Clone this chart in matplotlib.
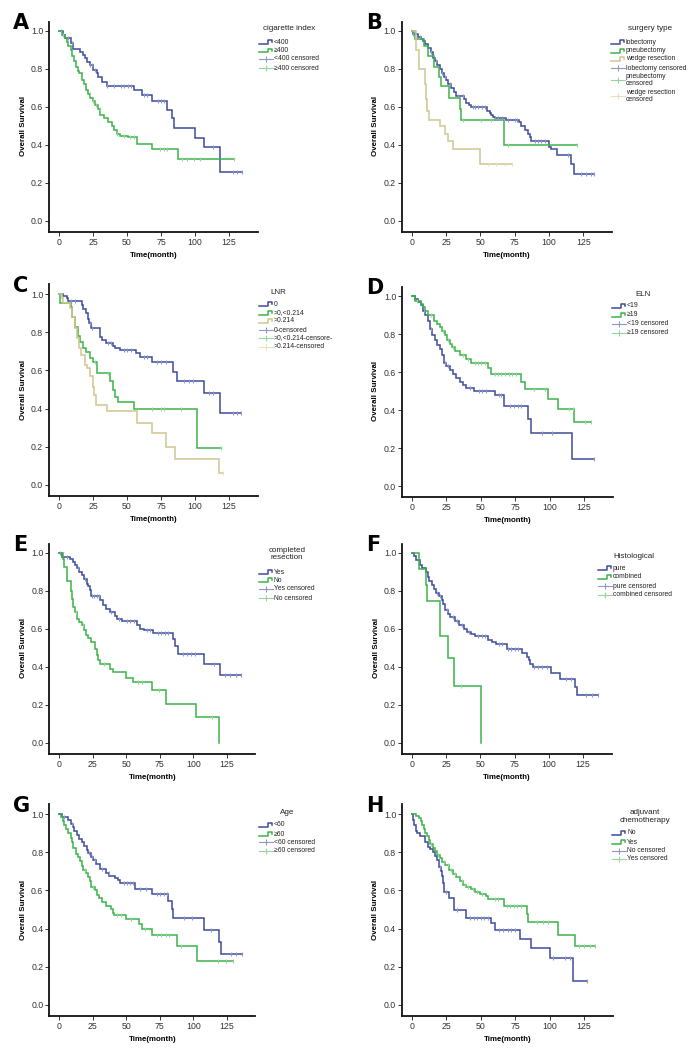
import numpy as np
import matplotlib
matplotlib.use("Agg")
import matplotlib.pyplot as plt
from matplotlib.lines import Line2D

plt.rcParams['font.family'] = ['Liberation Sans', 'DejaVu Sans']

###############################################################
# Data (months, survival after each event, censored times)
###############################################################

# A - cigarette index
A_lt400_t = [3.2, 4.4, 8.8, 10.6, 15.5, 17.4, 19.4, 20.9, 22.8, 25.3, 27.7, 29.0, 31.4, 35.1, 55.5, 60.9,
             68.3, 79.3, 83.0, 84.2, 100.2, 106.8, 118.6]
A_lt400_s = [0.981, 0.961, 0.935, 0.905, 0.891, 0.873, 0.856, 0.838, 0.821, 0.794, 0.777, 0.756, 0.733, 0.71,
             0.689, 0.663, 0.633, 0.583, 0.54, 0.49, 0.439, 0.39, 0.258]
A_lt400_c = [1.5, 6.5, 9.5, 23, 24.5, 26.5, 35.5, 40.5, 45.5, 48, 50.5, 53, 62.5, 64.8, 72.5, 75, 77.5,
             113.5, 128, 131, 134.6]
A_ge400_t = [2.0, 4.4, 5.6, 6.9, 8.6, 9.8, 11.1, 12.5, 13.8, 15.0, 16.7, 18.4, 19.9, 21.6, 22.8, 24.8, 26.5,
             28.5, 30.2, 33.2, 36.3, 38.8, 40.5, 43.0, 44.9, 51.1, 57.2, 68.3, 87.4]
A_ge400_s = [0.981, 0.961, 0.94, 0.92, 0.9, 0.87, 0.84, 0.81, 0.79, 0.777, 0.74, 0.72, 0.69, 0.67, 0.65, 0.633,
             0.61, 0.59, 0.56, 0.54, 0.52, 0.50, 0.48, 0.46, 0.45, 0.44, 0.405, 0.38, 0.325]
A_ge400_c = [2.8, 22.5, 25.0, 27.5, 30.0, 43.0, 47.5, 52.5, 55.0, 74.5, 77.0, 79.5, 90.5, 94.0, 99.0, 104.0, 128.4]

# B - surgery type
B_lob_t = [1.0, 4.6, 7.0, 8.3, 10.0, 11.9, 13.8, 15.5, 17.2, 18.7, 20.4, 22.1, 23.3, 24.8, 26.5, 28.9, 30.8,
           32.5, 38.1, 39.8, 41.5, 43.4, 55.1, 56.8, 58.0, 59.2, 60.4, 68.4, 77.9, 79.9, 82.3, 84.7, 85.9,
           87.1, 100.0, 101.7, 106.1, 116.3, 118.0]
B_lob_s = [0.985, 0.97, 0.96, 0.95, 0.93, 0.91, 0.89, 0.86, 0.84, 0.82, 0.80, 0.78, 0.76, 0.74, 0.72, 0.70,
           0.68, 0.66, 0.64, 0.62, 0.61, 0.60, 0.58, 0.57, 0.56, 0.55, 0.54, 0.53, 0.52, 0.50, 0.48, 0.46,
           0.44, 0.42, 0.39, 0.38, 0.35, 0.30, 0.25]
B_lob_c = [1.0, 5.8, 14.1, 17.7, 22.3, 24.0, 27.7, 33.7, 37.4, 44.9, 46.1, 48.5, 50.9, 53.4, 60.7, 63.1, 65.5,
           70.4, 75.2, 76.5, 89.6, 92.0, 94.4, 96.8, 113.6, 123.3, 127.0, 130.6, 132.8]
B_pne_t = [2.4, 9.0, 11.9, 16.3, 19.7, 21.6, 27.2, 35.0, 36.2, 67.2]
B_pne_s = [0.96, 0.92, 0.87, 0.81, 0.76, 0.71, 0.65, 0.59, 0.53, 0.40]
B_pne_c = [37.5, 50.8, 58.1, 70.3, 120.6]
B_wed_t = [3.4, 5.3, 9.5, 10.7, 11.4, 12.4, 20.4, 24.5, 26.5, 30.1, 49.5]
B_wed_s = [0.90, 0.80, 0.72, 0.64, 0.58, 0.53, 0.50, 0.46, 0.42, 0.38, 0.30]
B_wed_c = [55.6, 61.7, 67.7, 73.3]

# C - LNR
C_0_t = [3.2, 5.6, 6.9, 16.7, 17.9, 19.9, 21.1, 22.3, 23.6, 30.2, 31.4, 34.6, 40.0, 41.3, 44.9, 56.7, 59.7,
         68.3, 83.7, 86.7, 106.8, 118.1]
C_0_s = [0.991, 0.98, 0.963, 0.94, 0.92, 0.899, 0.87, 0.85, 0.824, 0.777, 0.759, 0.742, 0.729, 0.719, 0.707,
         0.689, 0.668, 0.646, 0.593, 0.545, 0.48, 0.379]
C_0_c = [8.5, 12.0, 22.8, 24.5, 36.0, 38.5, 47.5, 50.0, 53.0, 62.5, 65.0, 72.0, 75.0, 78.5, 92.0, 95.5, 98.5,
         110.5, 113.0, 128.0, 131.0, 133.8]
C_mid_t = [0.7, 8.6, 9.8, 11.8, 13.8, 15.5, 17.9, 19.9, 22.8, 24.8, 27.8, 37.6, 40.0, 41.3, 43.7, 55.3, 101.4]
C_mid_s = [0.951, 0.93, 0.881, 0.829, 0.78, 0.747, 0.719, 0.698, 0.663, 0.642, 0.588, 0.545, 0.497, 0.462,
           0.436, 0.396, 0.195]
C_mid_c = [26.5, 36.0, 68.5, 75.0, 77.5, 90.0, 119.1]
C_hi_t = [2.0, 3.2, 8.1, 9.3, 11.8, 13.5, 15.0, 16.2, 19.2, 20.9, 22.8, 24.8, 26.0, 27.3, 35.1, 57.2, 68.3,
          78.8, 85.0, 117.9]
C_hi_s = [0.977, 0.951, 0.925, 0.881, 0.824, 0.768, 0.716, 0.681, 0.628, 0.611, 0.572, 0.515, 0.471, 0.419,
          0.387, 0.323, 0.271, 0.201, 0.134, 0.065]
C_hi_c = [120.6]

# D - ELN
D_lt19_t = [1.9, 4.4, 6.8, 8.0, 9.7, 11.7, 12.9, 14.8, 16.5, 18.4, 20.1, 21.8, 23.1, 24.5, 27.4, 29.9, 32.3,
            34.7, 37.1, 39.6, 45.1, 60.2, 67.0, 84.0, 86.4, 116.5]
D_lt19_s = [0.984, 0.97, 0.951, 0.919, 0.898, 0.866, 0.828, 0.796, 0.768, 0.74, 0.721, 0.691, 0.65, 0.629,
            0.612, 0.589, 0.571, 0.55, 0.533, 0.518, 0.501, 0.478, 0.422, 0.355, 0.281, 0.141]
D_lt19_c = [9.0, 13.5, 24.0, 26.0, 42.0, 48.5, 51.0, 53.5, 63.0, 65.0, 71.5, 74.0, 77.0, 79.5, 94.5, 102.0, 132.5]
D_ge19_t = [1.9, 6.3, 8.0, 9.7, 11.7, 16.0, 18.4, 20.1, 21.8, 23.8, 25.5, 27.4, 29.1, 31.1, 34.7, 39.6, 43.2,
            54.9, 57.3, 79.1, 82.0, 99.0, 105.8, 118.0]
D_ge19_s = [0.972, 0.96, 0.942, 0.919, 0.902, 0.87, 0.852, 0.835, 0.814, 0.793, 0.77, 0.749, 0.729, 0.708,
            0.691, 0.67, 0.65, 0.62, 0.59, 0.55, 0.508, 0.459, 0.406, 0.339]
D_ge19_c = [3.5, 14.0, 22.5, 26.5, 30.0, 37.0, 41.0, 45.5, 48.0, 50.5, 53.0, 60.0, 62.5, 65.0, 67.5, 70.5,
            73.0, 75.5, 89.0, 96.5, 114.0, 117.0, 126.0, 129.9]

# E - completed resection
E_yes_t = [2.0, 8.2, 10.2, 11.9, 13.6, 15.1, 16.9, 18.6, 20.6, 21.8, 23.1, 23.8, 30.5, 32.5, 35.0, 37.9, 41.7,
           43.4, 46.6, 57.8, 60.3, 63.2, 69.7, 84.6, 86.3, 88.3, 107.9, 119.8]
E_yes_s = [0.979, 0.97, 0.953, 0.939, 0.921, 0.9, 0.882, 0.861, 0.839, 0.825, 0.804, 0.774, 0.751, 0.725,
           0.707, 0.689, 0.667, 0.654, 0.64, 0.619, 0.602, 0.593, 0.581, 0.549, 0.509, 0.467, 0.418, 0.356]
E_yes_c = [1.0, 6.0, 14.5, 19.5, 24.5, 26.0, 28.0, 29.5, 39.0, 45.0, 50.5, 53.0, 55.5, 65.5, 67.5, 73.5, 76.0,
           79.0, 81.0, 92.0, 95.5, 98.5, 101.5, 115.5, 123.5, 127.0, 131.5, 135.2]
E_no_t = [2.7, 4.0, 5.7, 8.9, 9.9, 10.7, 11.9, 13.6, 15.1, 16.9, 18.6, 20.1, 21.8, 23.6, 26.8, 28.0, 29.3,
          30.5, 37.9, 39.9, 49.6, 55.3, 68.9, 79.6, 101.9, 119.0]
E_no_s = [0.97, 0.926, 0.851, 0.798, 0.76, 0.716, 0.689, 0.654, 0.637, 0.619, 0.593, 0.567, 0.553, 0.532,
          0.496, 0.461, 0.435, 0.418, 0.391, 0.374, 0.344, 0.321, 0.277, 0.207, 0.137, 0.0]
E_no_c = [12.5, 17.5, 33.5, 59.0, 62.0, 74.5, 113.5]

# F - Histological
F_pure_t = [1.5, 3.2, 5.7, 7.5, 9.9, 11.4, 12.7, 14.4, 16.2, 17.6, 19.4, 21.9, 22.6, 23.9, 26.3, 28.1, 31.3,
            34.3, 38.0, 40.5, 43.0, 46.2, 55.4, 58.6, 61.6, 69.1, 80.3, 84.0, 85.2, 86.5, 88.5, 101.9, 108.3,
            119.5, 120.8]
F_pure_s = [0.982, 0.961, 0.939, 0.921, 0.9, 0.874, 0.851, 0.83, 0.809, 0.789, 0.772, 0.751, 0.733, 0.702,
            0.681, 0.663, 0.64, 0.619, 0.602, 0.584, 0.572, 0.561, 0.54, 0.532, 0.523, 0.496, 0.475, 0.453,
            0.435, 0.418, 0.4, 0.37, 0.339, 0.295, 0.251]
F_pure_c = [18.0, 20.5, 25.5, 30.0, 33.0, 36.5, 41.5, 48.5, 51.0, 53.0, 63.5, 66.0, 70.5, 72.5, 75.0, 77.5,
            89.5, 92.0, 95.0, 98.5, 112.5, 116.0, 127.0, 131.5, 136.2]
F_comb_t = [5.2, 9.9, 10.9, 20.6, 26.3, 30.8, 50.4]
F_comb_s = [0.917, 0.833, 0.75, 0.5625, 0.45, 0.30, 0.0]
F_comb_c = [36.1]

# G - Age
G_lt60_t = [2.0, 6.9, 8.7, 10.2, 11.4, 13.1, 15.1, 16.9, 18.8, 20.6, 21.8, 23.6, 25.0, 27.5, 30.5, 35.0, 37.4,
            41.7, 44.1, 45.4, 56.5, 68.9, 81.3, 83.8, 85.0, 107.9, 119.0, 120.3]
G_lt60_s = [0.984, 0.97, 0.949, 0.932, 0.909, 0.892, 0.871, 0.851, 0.834, 0.813, 0.795, 0.774, 0.757, 0.738,
            0.712, 0.691, 0.677, 0.664, 0.652, 0.638, 0.607, 0.582, 0.542, 0.502, 0.455, 0.393, 0.332, 0.267]
G_lt60_c = [4.0, 9.5, 22.5, 24.5, 26.5, 32.0, 37.0, 48.0, 50.5, 53.0, 55.0, 60.5, 64.5, 73.0, 75.5, 78.0, 80.5,
            93.0, 99.0, 113.0, 128.0, 131.5, 135.9]
G_ge60_t = [1.2, 2.7, 4.0, 5.2, 6.9, 8.7, 9.9, 10.7, 12.6, 13.9, 15.6, 16.9, 18.1, 20.1, 21.8, 23.1, 23.8,
            26.8, 28.0, 30.0, 31.7, 35.0, 38.7, 39.9, 40.9, 49.9, 59.8, 61.5, 69.0, 87.6, 102.4]
G_ge60_s = [0.983, 0.962, 0.944, 0.921, 0.9, 0.874, 0.851, 0.822, 0.792, 0.773, 0.752, 0.729, 0.708, 0.691,
            0.67, 0.65, 0.617, 0.6, 0.577, 0.559, 0.537, 0.519, 0.502, 0.484, 0.469, 0.449, 0.425, 0.397,
            0.364, 0.309, 0.232]
G_ge60_c = [19.0, 25.0, 43.5, 46.5, 53.5, 64.0, 73.0, 76.0, 79.5, 81.5, 91.0, 118.0, 124.5, 129.7]

# H - adjuvant chemotherapy
H_no_t = [0.7, 1.5, 2.7, 3.9, 5.6, 9.7, 11.7, 12.9, 15.3, 17.0, 18.5, 19.7, 21.4, 22.1, 22.6, 23.1, 26.8,
          30.6, 39.6, 57.4, 60.3, 78.6, 86.3, 100.4, 116.7]
H_no_s = [0.97, 0.944, 0.913, 0.9, 0.883, 0.851, 0.827, 0.816, 0.799, 0.778, 0.76, 0.72, 0.699, 0.678, 0.638,
          0.594, 0.559, 0.498, 0.458, 0.428, 0.393, 0.344, 0.297, 0.248, 0.128]
H_no_c = [20.5, 24.5, 33.0, 42.5, 45.0, 47.5, 50.0, 52.5, 55.0, 63.0, 66.0, 69.5, 72.0, 75.0, 102.5, 111.5,
          114.5, 127.2]
H_yes_t = [3.2, 4.9, 6.3, 7.3, 8.8, 9.7, 10.9, 12.2, 13.4, 15.3, 17.0, 18.5, 20.2, 22.1, 24.3, 27.0, 29.9,
           32.3, 34.8, 37.2, 39.6, 42.8, 45.7, 49.4, 53.5, 55.4, 67.1, 83.4, 84.6, 106.0, 118.2]
H_yes_s = [0.991, 0.979, 0.962, 0.944, 0.921, 0.9, 0.886, 0.862, 0.844, 0.822, 0.804, 0.787, 0.769, 0.748,
           0.731, 0.708, 0.687, 0.67, 0.647, 0.629, 0.617, 0.607, 0.594, 0.582, 0.572, 0.554, 0.516, 0.477,
           0.432, 0.367, 0.309]
H_yes_c = [14.0, 19.0, 23.0, 26.0, 28.5, 31.0, 36.0, 38.5, 41.0, 44.0, 47.5, 51.0, 60.0, 62.5, 69.0, 71.5,
           74.0, 76.5, 79.0, 91.0, 95.0, 99.0, 121.5, 125.0, 129.0, 132.8]

x_ticks = [0, 25, 50, 75, 100, 125]
y_ticks = [0.0, 0.2, 0.4, 0.6, 0.8, 1.0]

###############################################################
# Style
###############################################################
W, H = 697, 1050
blue, blue_c = '#3D4C9C', '#8F98C9'
green, green_c = '#3CB34A', '#93D69D'
tan, tan_c = '#CFC58F', '#E6E0BE'

fig = plt.figure(figsize=(W / 100, H / 100), dpi=100)


def fx(x):
    return x / W


def fy(y):
    return 1 - y / H


def draw_curve(ax, t, s, c, color, ccolor):
    end = max(t[-1], max(c) if c else t[-1])
    tt = np.array([0] + list(t) + [end])
    ss = np.array([1.0] + list(s) + [s[-1]])
    ax.step(tt, ss, where='post', color=color, lw=1.1, solid_joinstyle='miter', zorder=3)
    c = np.array(c)
    idx = np.searchsorted(tt, c, side='right') - 1
    ax.plot(c, ss[idx], ls='none', marker='|', ms=3.5, mew=0.8, color=ccolor, zorder=4)


def make_axes(letter, x0, x125, y1, y0):
    sx = (x125 - x0) / 125.0
    sy = y0 - y1
    left = x0 - 7.3 * sx
    right = x0 + 146 * sx
    bottom = y0 + 0.058 * sy
    top = y1 - 0.05 * sy
    ax = fig.add_axes([fx(left), fy(bottom), (right - left) / W, (bottom - top) / H])
    ax.set_xlim(-7.3, 146)
    ax.set_ylim(-0.058, 1.05)
    ax.set_xticks(x_ticks)
    ax.set_yticks(y_ticks)
    ax.set_yticklabels(['%.1f' % v for v in y_ticks])
    for sp in ['top', 'right']:
        ax.spines[sp].set_visible(False)
    for sp in ['left', 'bottom']:
        ax.spines[sp].set_linewidth(1.3)
        ax.spines[sp].set_color('#111111')
    ax.tick_params(direction='out', length=3, width=0.7, color='#333333', labelsize=6.3,
                   labelcolor='#333333', pad=1.2)
    ax.patch.set_alpha(0)
    fig.text(fx(left - 36), fy(y1 - 2), letter, fontsize=15, fontweight='bold',
             family='DejaVu Sans', ha='left', va='baseline')
    fig.text(fx((left + right) / 2), fy(bottom + 23), 'Time(month)', fontsize=5.7,
             fontweight='bold', ha='center', va='center')
    fig.text(fx(left - 26), fy((y0 + y1) / 2), 'Overall Survival', fontsize=5.7,
             fontweight='bold', ha='center', va='center', rotation=90)
    return ax, left


def legend(hx, title, title_x, title_y, rows):
    fig.text(fx(title_x), fy(title_y), title, fontsize=5.8, ha='center', va='center',
             color='#222222', linespacing=1.0)
    for label, kind, color, y in rows:
        if kind == 'step':
            xs = [hx, hx + 9, hx + 9, hx + 13, hx + 13]
            ys = [y + 1.6, y + 1.6, y - 2.0, y - 2.0, y + 0.2]
            fig.add_artist(Line2D([fx(v) for v in xs], [fy(v) for v in ys], color=color,
                                  lw=1.1, transform=fig.transFigure))
        else:
            fig.add_artist(Line2D([fx(hx), fx(hx + 14)], [fy(y), fy(y)], color=color, lw=0.8,
                                  transform=fig.transFigure))
            fig.add_artist(Line2D([fx(hx + 7)], [fy(y)], color=color, marker='|', ms=4,
                                  mew=0.8, transform=fig.transFigure))
        fig.text(fx(hx + 15), fy(y), label, fontsize=4.9, ha='left', va='center',
                 color='#222222', linespacing=1.05)


# A
ax, l = make_axes('A', 59, 229, 31, 221)
draw_curve(ax, A_lt400_t, A_lt400_s, A_lt400_c, blue, blue_c)
draw_curve(ax, A_ge400_t, A_ge400_s, A_ge400_c, green, green_c)
legend(259, 'cigarette index', 289, 29,
       [('<400', 'step', blue, 42), ('\u2265400', 'step', green, 50.5),
        ('<400 censored', 'c', blue_c, 59), ('\u2265400 censored', 'c', green_c, 68)])

# B
ax, l = make_axes('B', 411.7, 583.3, 31, 221)
draw_curve(ax, B_lob_t, B_lob_s, B_lob_c, blue, blue_c)
draw_curve(ax, B_pne_t, B_pne_s, B_pne_c, green, green_c)
draw_curve(ax, B_wed_t, B_wed_s, B_wed_c, tan, tan_c)
legend(611, 'surgery type', 650, 29,
       [('lobectomy', 'step', blue, 42), ('pneubectomy', 'step', green, 51),
        ('wedge resection', 'step', tan, 59), ('lobectomy censored', 'c', blue_c, 68),
        ('pneubectomy\ncensored', 'c', green_c, 80), ('wedge resection\ncensored', 'c', tan_c, 96)])

# C
ax, l = make_axes('C', 59, 229, 294, 485)
draw_curve(ax, C_0_t, C_0_s, C_0_c, blue, blue_c)
draw_curve(ax, C_mid_t, C_mid_s, C_mid_c, green, green_c)
draw_curve(ax, C_hi_t, C_hi_s, C_hi_c, tan, tan_c)
legend(259, 'LNR', 278, 292,
       [('0', 'step', blue, 304), ('>0,<0.214', 'step', green, 313), ('>0.214', 'step', tan, 321),
        ('0-censored', 'c', blue_c, 330), ('>0,<0.214-censore-', 'c', green_c, 338),
        ('>0.214-censored', 'c', tan_c, 347)])

# D
ax, l = make_axes('D', 412, 584, 296, 486)
draw_curve(ax, D_lt19_t, D_lt19_s, D_lt19_c, blue, blue_c)
draw_curve(ax, D_ge19_t, D_ge19_s, D_ge19_c, green, green_c)
legend(612, 'ELN', 643, 295,
       [('<19', 'step', blue, 306), ('\u226519', 'step', green, 315),
        ('<19 censored', 'c', blue_c, 324), ('\u226519 censored', 'c', green_c, 333)])

# E
ax, l = make_axes('E', 59, 227, 553, 743)
draw_curve(ax, E_yes_t, E_yes_s, E_yes_c, blue, blue_c)
draw_curve(ax, E_no_t, E_no_s, E_no_c, green, green_c)
legend(259, 'completed\nresection', 287, 554,
       [('Yes', 'step', blue, 572), ('No', 'step', green, 580),
        ('Yes censored', 'c', blue_c, 589), ('No censored', 'c', green_c, 598)])

# F
ax, l = make_axes('F', 412, 583, 553, 743)
draw_curve(ax, F_pure_t, F_pure_s, F_pure_c, blue, blue_c)
draw_curve(ax, F_comb_t, F_comb_s, F_comb_c, green, green_c)
legend(598, 'Histological', 634, 556,
       [('pure', 'step', blue, 568), ('combined', 'step', green, 577),
        ('pure censored', 'c', blue_c, 586), ('combined censored', 'c', green_c, 595)])

# G
ax, l = make_axes('G', 59, 227, 814, 1005)
draw_curve(ax, G_lt60_t, G_lt60_s, G_lt60_c, blue, blue_c)
draw_curve(ax, G_ge60_t, G_ge60_s, G_ge60_c, green, green_c)
legend(259, 'Age', 287, 812,
       [('<60', 'step', blue, 825), ('\u226560', 'step', green, 834),
        ('<60 censored', 'c', blue_c, 842), ('\u226560 censored', 'c', green_c, 851)])

# H
ax, l = make_axes('H', 412, 584, 814, 1005)
draw_curve(ax, H_no_t, H_no_s, H_no_c, blue, blue_c)
draw_curve(ax, H_yes_t, H_yes_s, H_yes_c, green, green_c)
legend(612, 'adjuvant\nchemotherapy', 645, 816.5,
       [('No', 'step', blue, 833), ('Yes', 'step', green, 842),
        ('No censored', 'c', blue_c, 851), ('Yes censored', 'c', green_c, 859)])

fig.savefig('out.png', dpi=100)
